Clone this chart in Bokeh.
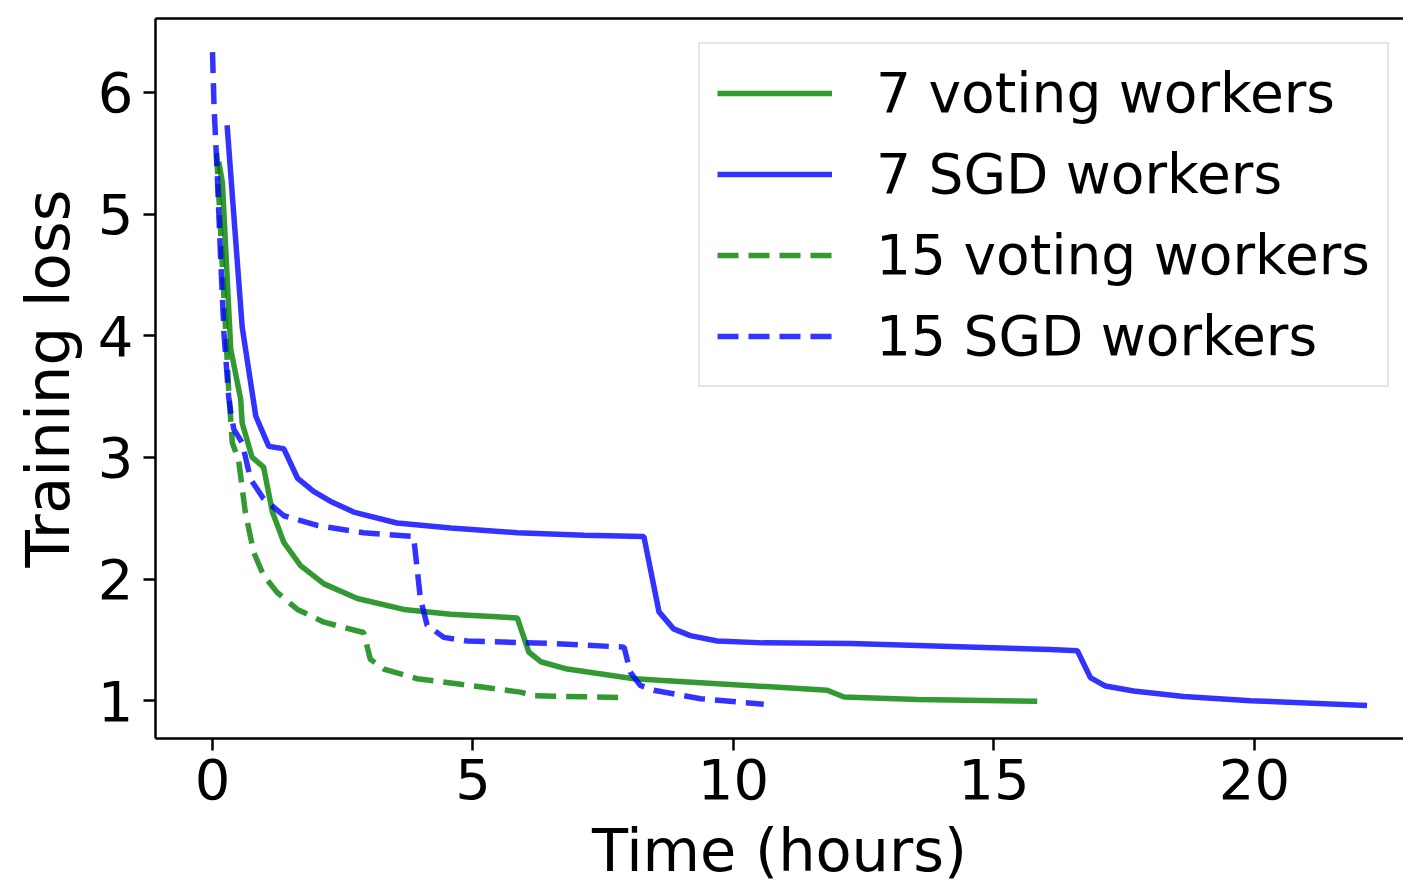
from bokeh.plotting import figure
from bokeh.models import Range1d, LinearAxis, Legend, LegendItem, FixedTicker
from bokeh.embed import file_html
from bokeh.resources import INLINE

# 7 voting workers (solid green)
t_vote7 = [0.12, 0.19, 0.35, 0.54, 0.57, 0.76, 0.98, 1.15, 1.37, 1.69, 2.14, 2.78, 3.67, 4.57,
           5.85, 6.07, 6.30, 6.81, 8.09, 9.69, 11.8, 12.12, 13.53, 15.83]
l_vote7 = [5.43, 5.26, 3.89, 3.48, 3.28, 3.00, 2.92, 2.55, 2.30, 2.11, 1.96, 1.84, 1.75, 1.71,
           1.68, 1.40, 1.32, 1.26, 1.18, 1.14, 1.085, 1.03, 1.01, 0.995]

# 7 SGD workers (solid blue)
t_sgd7 = [0.28, 0.57, 0.83, 1.08, 1.37, 1.63, 1.94, 2.26, 2.71, 3.54, 4.57, 5.85, 7.13, 8.28,
          8.57, 8.85, 9.17, 9.69, 10.58, 12.25, 14.17, 16.08, 16.6, 16.85, 17.14, 17.68,
          18.64, 19.92, 22.16]
l_sgd7 = [5.73, 4.07, 3.34, 3.09, 3.07, 2.83, 2.72, 2.64, 2.55, 2.46, 2.42, 2.38, 2.36, 2.35,
          1.73, 1.59, 1.535, 1.49, 1.475, 1.47, 1.445, 1.42, 1.41, 1.19, 1.12, 1.08,
          1.035, 1.0, 0.96]

# 15 voting workers (dashed green)
t_vote15 = [0.08, 0.31, 0.38, 0.50, 0.63, 0.79, 0.98, 1.24, 1.63, 2.14, 2.90, 3.03, 3.29, 3.93,
            5.21, 5.91, 6.17, 7.90]
l_vote15 = [5.5, 3.56, 3.12, 2.98, 2.55, 2.22, 2.03, 1.89, 1.75, 1.645, 1.56, 1.34, 1.26, 1.18,
            1.11, 1.07, 1.04, 1.025]

# 15 SGD workers (dashed blue)
t_sgd15 = [0.0, 0.03, 0.09, 0.15, 0.22, 0.31, 0.35, 0.41, 0.57, 0.73, 0.98, 1.37, 2.01, 2.90,
           3.86, 3.99, 4.12, 4.44, 4.89, 6.49, 7.90, 8.02, 8.21, 8.47, 9.37, 10.58]
l_sgd15 = [6.33, 5.88, 5.34, 4.70, 4.02, 3.50, 3.37, 3.23, 3.12, 2.82, 2.66, 2.52, 2.44, 2.38,
           2.35, 1.84, 1.62, 1.52, 1.49, 1.47, 1.44, 1.235, 1.125, 1.085, 1.016, 0.97]

x_ticks = [0, 5, 10, 15, 20]
y_ticks = [1, 2, 3, 4, 5, 6]
labels = ["7 voting workers", "7 SGD workers", "15 voting workers", "15 SGD workers"]

FONT = "DejaVu Sans"

p = figure(width=1403, height=887, output_backend="svg", toolbar_location=None,
           x_range=Range1d(-1.094, 22.86), y_range=Range1d(0.689, 6.607),
           min_border_left=155, min_border_right=0, min_border_top=18, min_border_bottom=147)
p.outline_line_color = None
p.grid.visible = False
p.background_fill_color = "white"
p.border_fill_color = "white"

lw = 5.5
r1 = p.line(t_vote7, l_vote7, line_color="green", line_alpha=0.8, line_width=lw)
r2 = p.line(t_sgd7, l_sgd7, line_color="blue", line_alpha=0.8, line_width=lw)
r3 = p.line(t_vote15, l_vote15, line_color="green", line_alpha=0.8, line_width=lw, line_dash="21 10")
r4 = p.line(t_sgd15, l_sgd15, line_color="blue", line_alpha=0.8, line_width=lw, line_dash="21 10")

for ax in (p.xaxis[0], p.yaxis[0]):
    ax.axis_line_width = 2.5
    ax.major_tick_line_width = 2.5
    ax.major_tick_out = 12
    ax.major_tick_in = 0
    ax.minor_tick_line_color = None
    ax.major_label_text_font = FONT
    ax.major_label_text_font_size = "56px"
    ax.major_label_text_color = "black"
    ax.axis_label_text_font = FONT
    ax.axis_label_text_font_style = "normal"
    ax.axis_label_text_color = "black"

p.xaxis[0].axis_label_text_font_size = "59px"
p.yaxis[0].axis_label_text_font_size = "61px"
p.xaxis[0].ticker = FixedTicker(ticks=x_ticks)
p.yaxis[0].ticker = FixedTicker(ticks=y_ticks)
p.xaxis[0].axis_label = "Time (hours)"
p.yaxis[0].axis_label = "Training loss"
p.xaxis[0].major_label_standoff = 8
p.xaxis[0].axis_label_standoff = 14
p.yaxis[0].major_label_standoff = 10
p.yaxis[0].axis_label_standoff = 12

top = LinearAxis(ticker=FixedTicker(ticks=[]), major_label_text_font_size="0px",
                 major_tick_line_color=None, minor_tick_line_color=None,
                 axis_line_width=2.5, major_label_standoff=0)
p.add_layout(top, "above")

legend = Legend(items=[LegendItem(label=lab, renderers=[r]) for lab, r in zip(labels, [r1, r2, r3, r4])],
                location=(543, 351), orientation="vertical")
legend.label_text_font = FONT
legend.label_text_font_size = "55px"
legend.label_text_color = "black"
legend.glyph_width = 115
legend.glyph_height = 60
legend.label_height = 60
legend.label_standoff = 44
legend.spacing = 17
legend.padding = 17
legend.margin = 0
legend.border_line_color = "#cccccc"
legend.border_line_width = 2
legend.background_fill_alpha = 0.8
p.add_layout(legend, "center")

open("out.html", "w").write(file_html(p, INLINE))
